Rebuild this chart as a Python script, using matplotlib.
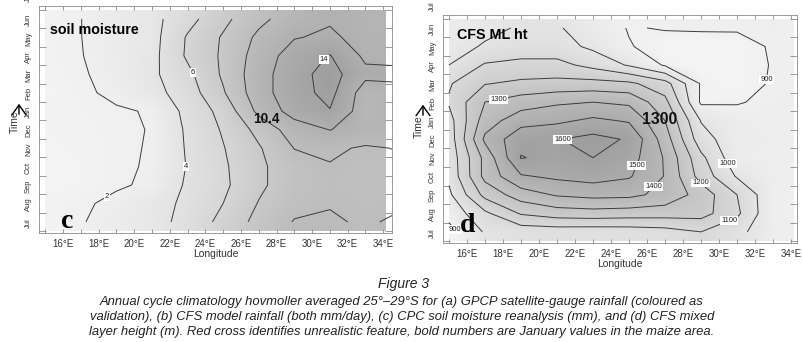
import numpy as np
import matplotlib
matplotlib.use("Agg")
import matplotlib.pyplot as plt
from matplotlib import font_manager
from matplotlib.colors import LinearSegmentedColormap
from matplotlib.patches import Rectangle, FancyArrowPatch

W, H = 804, 342

lon = [15, 17, 19, 21, 23, 25, 27, 29, 31, 33, 35]
month_labels = ["Jul", "Aug", "Sep", "Oct", "Nov", "Dec",
                "Jan", "Feb", "Mar", "Apr", "May", "Jun"]
lon_ticks = [16, 18, 20, 22, 24, 26, 28, 30, 32, 34]

# (c) CPC soil moisture (mm), rows Jul..Jun, columns = lon
soil_moisture = [
    [1.5, 1.9, 2.6, 3.3, 4.6, 6.6, 8.6, 10.1, 10.2, 9.8, 10.3],
    [1.5, 1.8, 2.3, 3.2, 4.4, 6.0, 8.1, 9.5, 9.9, 9.6, 9.8],
    [1.4, 1.5, 1.85, 2.2, 4.3, 5.6, 7.6, 9.2, 9.7, 9.5, 9.6],
    [1.4, 1.5, 1.75, 2.15, 4.1, 5.7, 7.6, 9.2, 9.9, 9.5, 9.7],
    [1.45, 1.55, 1.75, 2.1, 4.2, 5.9, 7.8, 10.05, 10.3, 9.8, 10.1],
    [1.5, 1.6, 1.8, 2.05, 4.3, 6.2, 8.6, 11.0, 12.05, 11.2, 11.2],
    [1.5, 1.65, 1.85, 2.1, 4.6, 6.6, 10.5, 12.8, 13.9, 10.9, 11.6],
    [1.4, 1.75, 2.3, 3.3, 5.0, 7.8, 11.2, 13.2, 14.6, 11.0, 11.5],
    [1.5, 1.85, 2.5, 3.6, 5.5, 8.3, 11.2, 13.2, 14.8, 12.5, 12.4],
    [1.6, 1.95, 2.6, 3.4, 6.3, 8.3, 10.9, 12.9, 14.1, 11.6, 11.5],
    [1.6, 1.98, 2.7, 3.3, 6.2, 8.2, 10.4, 11.9, 12.3, 11.4, 11.3],
    [1.6, 1.98, 2.8, 3.4, 5.3, 7.5, 9.5, 11.0, 11.8, 11.3, 11.2],
]
soil_levels = [2, 4, 6, 8, 10, 12, 14]
soil_label_at = [(18.25, 2.16), (22.9, 3.5), (23.4, 8.65), (30.5, 9.4)]

# (d) CFS mixed layer height (m)
ml_height = [
    [870, 1010, 1040, 1045, 1040, 1045, 1060, 1100, 1030, 925, 910],
    [930, 1080, 1210, 1250, 1260, 1250, 1245, 1240, 1120, 915, 905],
    [980, 1230, 1350, 1410, 1430, 1425, 1370, 1260, 1100, 920, 905],
    [1020, 1330, 1490, 1520, 1540, 1510, 1395, 1160, 990, 925, 910],
    [1030, 1330, 1605, 1570, 1600, 1545, 1390, 1125, 930, 920, 910],
    [1040, 1420, 1570, 1595, 1630, 1590, 1350, 1040, 940, 925, 915],
    [1060, 1350, 1460, 1480, 1520, 1490, 1300, 995, 930, 920, 915],
    [1110, 1300, 1350, 1385, 1400, 1380, 1230, 885, 895, 915, 915],
    [1090, 1195, 1220, 1230, 1235, 1220, 1140, 890, 860, 910, 915],
    [1000, 1110, 1130, 1130, 1070, 990, 890, 860, 865, 905, 915],
    [960, 1010, 1040, 1040, 980, 905, 870, 860, 865, 910, 915],
    [930, 975, 1010, 1010, 950, 895, 905, 910, 910, 915, 900],
]
ml_levels = [900, 1000, 1100, 1200, 1300, 1400, 1500, 1600]
ml_label_at = [(17.7, 7.9), (21.2, 5.35), (25.6, 4.05), (26.6, 2.8),
               (28.9, 3.1), (30.2, 4.05), (30.4, 1.4), (32.8, 8.7), (15.3, 0.6)]

caption_title = "Figure 3"
caption_lines = [
    "Annual cycle climatology hovmoller averaged 25°\u201329°S for (a) GPCP satellite-gauge rainfall (coloured as",
    "validation), (b) CFS model rainfall (both mm/day), (c) CPC soil moisture reanalysis (mm), and (d) CFS mixed",
    "layer height (m). Red cross identifies unrealistic feature, bold numbers are January values in the maize area.",
]

installed = {f.name for f in font_manager.fontManager.ttflist}
NARROW = "Liberation Sans Narrow" in installed
SANS = ["Liberation Sans", "DejaVu Sans"]
BOLD_FAMILY = ["Liberation Sans Narrow"] + SANS if NARROW else SANS
BOLD_SCALE = 1.0 if NARROW else 0.82
SERIF = ["Liberation Serif", "DejaVu Serif"]

plt.rcParams["font.family"] = SANS

grey = LinearSegmentedColormap.from_list("g", ["#f6f6f6", "#9a9a9a"])


def add_axes_px(fig, left, top, right, bottom):
    return fig.add_axes([left / W, 1 - bottom / H, (right - left) / W, (bottom - top) / H])


def fig_text(fig, x, y, s, **kw):
    return fig.text(x / W, 1 - y / H, s, **kw)


def panel(ax, field, levels, vmin, vmax, label_at, xlim):
    z = np.array(field, dtype=float)
    x = np.array(lon, dtype=float)
    m = np.arange(z.shape[0]) + 0.5
    im = ax.imshow(z, origin="lower", extent=(x[0] - 1, x[-1] + 1, 0, 12),
                   cmap=grey, vmin=vmin, vmax=vmax, interpolation="bilinear",
                   aspect="auto", zorder=0)
    im.set_clip_path(Rectangle((15, 0), 19.15, 12, transform=ax.transData))
    cs = ax.contour(x, m, z, levels=levels, colors="#3c3c3c", linewidths=0.7)
    texts = ax.clabel(cs, levels=levels, manual=label_at, fmt="%d", fontsize=5.5,
                      inline=False)
    for t in texts:
        t.set_rotation(0)
        t.set_bbox(dict(boxstyle="square,pad=0.12", fc="white", ec="none"))
        t.set_color("#222222")

    ax.set_xlim(*xlim)
    ax.set_ylim(-0.1, 12.2)
    ax.set_xticks(lon_ticks)
    ax.set_xticklabels([f"{v}°E" for v in lon_ticks])
    ax.set_xticks(range(15, 35, 2), minor=True)
    ax.tick_params(axis="x", which="both", direction="in", top=True, bottom=True,
                   length=3, width=0.6, color="#8a8a8a", labelsize=7,
                   labelcolor="#333333", pad=4)
    ax.set_yticks(range(0, 13))
    ax.set_yticklabels([])
    ax.set_yticks(np.arange(12) + 0.45, minor=True)
    ax.set_yticklabels(month_labels, minor=True, rotation=90, va="center")
    ax.tick_params(axis="y", which="major", direction="in", left=True, right=True,
                   length=5, width=0.6, color="#8a8a8a")
    ax.tick_params(axis="y", which="minor", length=0, labelsize=5.5,
                   labelcolor="#333333", pad=5)
    ax.text(-0.03, 12.7, "Jul", transform=ax.get_yaxis_transform(), rotation=90,
            ha="center", va="center", fontsize=5.5, color="#333333", clip_on=False)
    for s in ax.spines.values():
        s.set_color("#8a8a8a")
        s.set_linewidth(0.6)
    ax.set_xlabel("Longitude", fontsize=7.5, color="#333333", labelpad=0)


fig = plt.figure(figsize=(W / 100, H / 100), dpi=100)
fig.patch.set_facecolor("white")

ax_c = add_axes_px(fig, 39, 6, 392, 233)
panel(ax_c, soil_moisture, soil_levels, 1.0, 15.5, soil_label_at, (14.65, 34.49))

ax_d = add_axes_px(fig, 443, 15, 797, 243)
panel(ax_d, ml_height, ml_levels, 850, 1660, ml_label_at, (14.67, 34.33))

# panel titles and bold January values
fig_text(fig, 50, 30, "soil moisture", family=BOLD_FAMILY, fontweight="bold",
         fontsize=12.5 * BOLD_SCALE, va="center", ha="left", color="black")
fig_text(fig, 457, 35, "CFS ML ht", family=BOLD_FAMILY, fontweight="bold",
         fontsize=12.5 * BOLD_SCALE, va="center", ha="left", color="black")
fig_text(fig, 266, 119, "10.4", family=BOLD_FAMILY, fontweight="bold",
         fontsize=12 * BOLD_SCALE, va="center", ha="center", color="#111111")
fig_text(fig, 660, 120, "1300", family=BOLD_FAMILY, fontweight="bold",
         fontsize=14 * BOLD_SCALE, va="center", ha="center", color="#111111")
fig_text(fig, 67, 222, "c", family=SERIF, fontweight="bold", fontsize=20,
         va="center", ha="center", color="black")
fig_text(fig, 468, 225, "d", family=SERIF, fontweight="bold", fontsize=20,
         va="center", ha="center", color="black")

# "Time" axis labels with arrow
for tx, ty, ay in [(15, 122, 101), (419, 127, 102)]:
    fig_text(fig, tx, ty, "Time", rotation=90, fontsize=7.5, color="#333333",
             ha="center", va="center")
    fig.add_artist(FancyArrowPatch(
        ((tx + 4) / W, 1 - (ay + 16) / H), ((tx + 4) / W, 1 - ay / H),
        transform=fig.transFigure, arrowstyle="->,head_length=7,head_width=5",
        color="black", linewidth=1.0, mutation_scale=1))

# caption
fig_text(fig, 404, 284, caption_title, fontsize=10, style="italic",
         ha="center", va="center", color="#222222")
for i, line in enumerate(caption_lines):
    fig_text(fig, 402, 302 + 15 * i, line, fontsize=9.4, style="italic",
             ha="center", va="center", color="#222222")

fig.savefig("out.png", dpi=100)
